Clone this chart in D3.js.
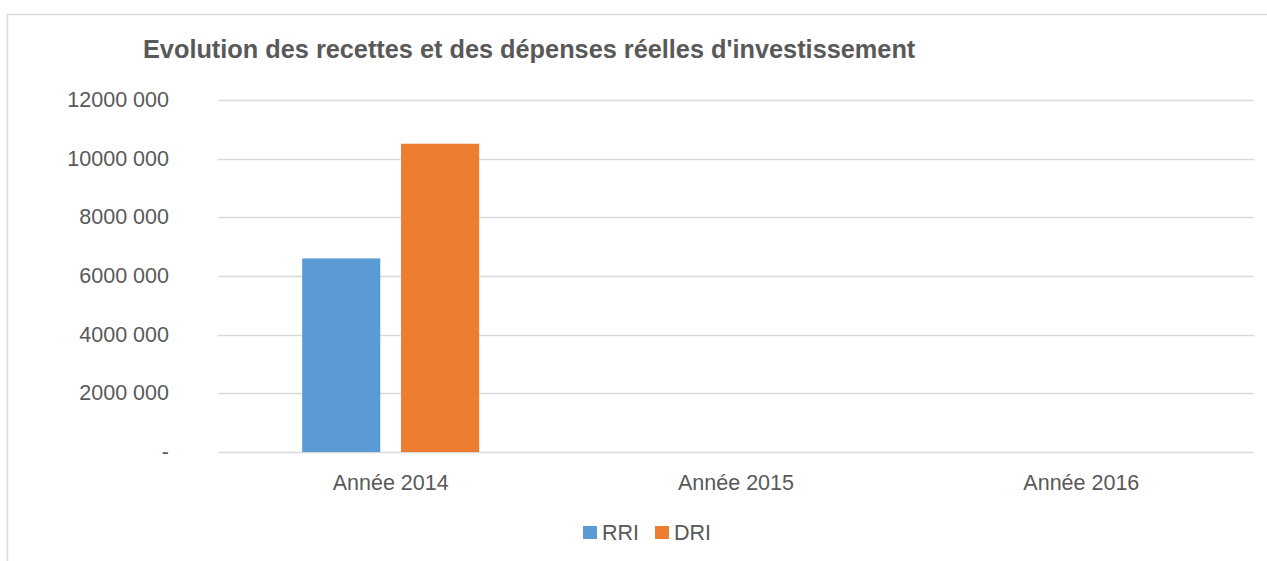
<!DOCTYPE html>
<html>
<head>
<meta charset="utf-8">
<script src="https://cdn.jsdelivr.net/npm/d3@7"></script>
<style>
  body { margin: 0; background: #fff; }
  text { font-family: "Liberation Sans Narrow", "Arial Narrow", sans-serif; fill: #595959; }
</style>
</head>
<body>
<div id="chart"></div>
<script>
const categories = ["Année 2014", "Année 2015", "Année 2016"];
const seriesNames = ["RRI", "DRI"];
const rriValues = [6600000, 0, 0];
const driValues = [10510000, 0, 0];
const yTicks = [0, 2000000, 4000000, 6000000, 8000000, 10000000, 12000000];
const tickLabels = ["-", "2000 000", "4000 000", "6000 000", "8000 000", "10000 000", "12000 000"];

const colors = { RRI: "#5b9bd5", DRI: "#ed7d31" };

const W = 1267, H = 561;
const plot = { left: 218, right: 1254, top: 100, bottom: 452 };

const svg = d3.select("#chart").append("svg")
    .attr("width", W)
    .attr("height", H);

// chart border
svg.append("rect")
    .attr("x", 7.5).attr("y", 14.5)
    .attr("width", W + 10).attr("height", H)
    .attr("fill", "none")
    .attr("stroke", "#d9d9d9")
    .attr("stroke-width", 1.5);

const rows = categories.map((c, i) => ({ cat: c, RRI: rriValues[i], DRI: driValues[i] }));

const x0 = d3.scaleBand()
    .domain(categories)
    .range([plot.left, plot.right]);

const x1 = d3.scaleBand()
    .domain(seriesNames)
    .range([x0.bandwidth() / 2 - 88.5, x0.bandwidth() / 2 + 88.5])
    .paddingInner(0.21);

const y = d3.scaleLinear()
    .domain([0, 12000000])
    .range([plot.bottom, plot.top]);

// gridlines
svg.append("g")
    .selectAll("line")
    .data(yTicks)
    .enter()
    .append("line")
    .attr("x1", plot.left)
    .attr("x2", plot.right)
    .attr("y1", d => Math.round(y(d)) + 0.5)
    .attr("y2", d => Math.round(y(d)) + 0.5)
    .attr("stroke", "#d9d9d9")
    .attr("stroke-width", 1.5);

// y tick labels
svg.append("g")
    .selectAll("text")
    .data(yTicks)
    .enter()
    .append("text")
    .attr("x", 169)
    .attr("y", d => y(d) + 7)
    .attr("text-anchor", "end")
    .style("font-size", "21.5px")
    .text((d, i) => tickLabels[i]);

// bars
svg.append("g")
    .selectAll("g")
    .data(rows)
    .enter()
    .append("g")
    .attr("transform", d => `translate(${x0(d.cat)},0)`)
    .selectAll("rect")
    .data(d => seriesNames.map(k => ({ key: k, value: d[k] })))
    .enter()
    .append("rect")
    .attr("x", d => x1(d.key))
    .attr("y", d => y(d.value))
    .attr("width", x1.bandwidth())
    .attr("height", d => y(0) - y(d.value))
    .attr("fill", d => colors[d.key]);

// x labels
svg.append("g")
    .selectAll("text")
    .data(categories)
    .enter()
    .append("text")
    .attr("x", d => x0(d) + x0.bandwidth() / 2)
    .attr("y", 490)
    .attr("text-anchor", "middle")
    .style("font-size", "21.5px")
    .text(d => d);

// title
svg.append("text")
    .attr("x", 143)
    .attr("y", 58)
    .style("font-size", "25.3px")
    .style("font-weight", "bold")
    .text("Evolution des recettes et des dépenses réelles d'investissement");

// legend
const legendX = [583, 655];
seriesNames.forEach((s, i) => {
    const g = svg.append("g").attr("transform", `translate(${legendX[i]}, 0)`);
    g.append("rect")
        .attr("x", 0).attr("y", 526)
        .attr("width", 14).attr("height", 13)
        .attr("fill", colors[s]);
    g.append("text")
        .attr("x", 19)
        .attr("y", 540)
        .style("font-size", "21.5px")
        .text(s);
});
</script>
</body>
</html>
